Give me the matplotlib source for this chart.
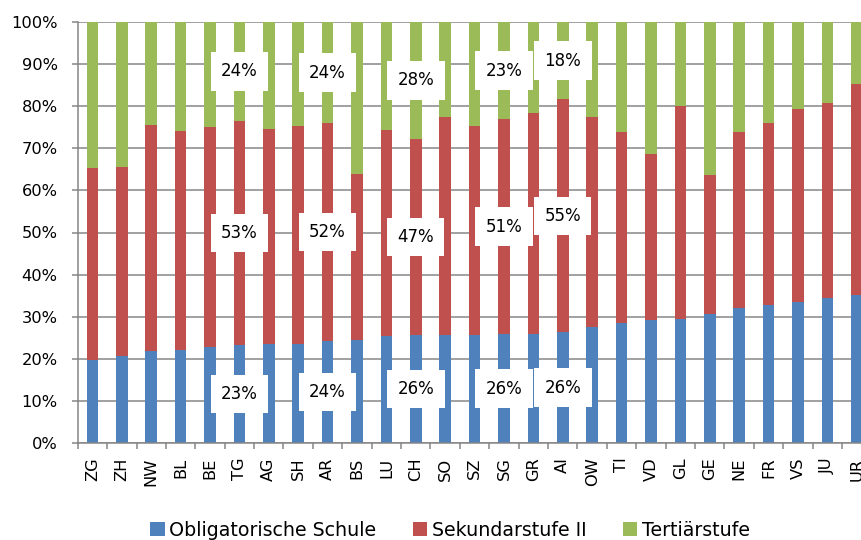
import numpy as np
import matplotlib
matplotlib.use("Agg")
import matplotlib.pyplot as plt
from matplotlib.ticker import FixedLocator

kantone = ["ZG", "ZH", "NW", "BL", "BE", "TG", "AG", "SH", "AR", "BS", "LU", "CH", "SO", "SZ",
           "SG", "GR", "AI", "OW", "TI", "VD", "GL", "GE", "NE", "FR", "VS", "JU", "UR"]

# Anteile in Prozent
obligatorisch = [19.6, 20.6, 21.8, 22.2, 22.9, 23.2, 23.4, 23.5, 24.2, 24.4, 25.3, 25.6, 25.6, 25.7,
                 25.8, 26.0, 26.3, 27.5, 28.5, 29.1, 29.4, 30.6, 32.0, 32.8, 33.6, 34.4, 35.2]
sekundar = [45.8, 45.0, 53.8, 52.0, 52.1, 53.3, 51.2, 51.7, 51.8, 39.6, 49.1, 46.7, 51.9, 49.7,
            51.1, 52.5, 55.3, 50.0, 45.3, 39.6, 50.6, 33.0, 41.9, 43.3, 45.7, 46.4, 50.0]
tertiaer = [34.6, 34.4, 24.4, 25.8, 25.0, 23.5, 25.4, 24.8, 24.0, 36.0, 25.6, 27.7, 22.5, 24.6,
            23.1, 21.5, 18.4, 22.5, 26.2, 31.3, 20.0, 36.4, 26.1, 23.9, 20.7, 19.2, 14.8]

# Kantone mit Datenbeschriftung
beschriftet = ["TG", "AR", "CH", "SG", "AI"]

serien = ["Obligatorische Schule", "Sekundarstufe II", "Tertiärstufe"]
farben = ["#4F81BD", "#C0504D", "#9BBB59"]
grau = "#868686"

plt.rcParams['font.family'] = 'DejaVu Sans'

fig = plt.figure(figsize=(8.62, 5.4), dpi=100)
W, H = 862, 540
ax = fig.add_axes([77.7 / W, (H - 443) / H, 27 * 29.4 / W, 421 / H])

x = np.arange(len(kantone))
werte = [np.array(obligatorisch), np.array(sekundar), np.array(tertiaer)]
unten = np.zeros(len(kantone))
for name, v, c in zip(serien, werte, farben):
    ax.bar(x, v, width=0.39, bottom=unten, color=c, label=name, zorder=3)
    for k in beschriftet:
        i = kantone.index(k)
        ax.text(i, unten[i] + v[i] / 2, f"{v[i]:.0f}%", ha="center", va="center",
                fontsize=12, zorder=5,
                bbox=dict(boxstyle="square,pad=0.62", fc="white", ec="none"))
    unten = unten + v

ax.set_xlim(-0.5, len(kantone) - 0.5)
ax.set_ylim(0, 100)
ax.set_yticks(np.arange(0, 101, 10))
ax.set_yticklabels([f"{t}%" for t in range(0, 101, 10)], fontsize=11.7)
ax.set_xticks(x)
ax.set_xticklabels(kantone, rotation=90, fontsize=11.7)
ax.xaxis.set_minor_locator(FixedLocator(np.arange(-0.5, len(kantone), 1)))
ax.tick_params(axis="x", which="major", length=0, pad=10.5)
ax.tick_params(axis="x", which="minor", length=4.5, width=1.1, color=grau, direction="out")
ax.tick_params(axis="y", length=4.5, width=1.1, color=grau, direction="out", pad=10)

ax.yaxis.grid(True, color=grau, linewidth=1.1, zorder=0)
ax.set_axisbelow(True)
for s in ["top", "right"]:
    ax.spines[s].set_visible(False)
for s in ["left", "bottom"]:
    ax.spines[s].set_color(grau)
    ax.spines[s].set_linewidth(1.1)
    ax.spines[s].set_zorder(4)

fig.legend(loc="center", bbox_to_anchor=(450 / W, 10 / H), ncol=3, frameon=False,
           fontsize=13.7, handlelength=0.74, handleheight=0.74, handletextpad=0.26,
           columnspacing=1.9, borderpad=0)

fig.savefig("out.png", dpi=100)
